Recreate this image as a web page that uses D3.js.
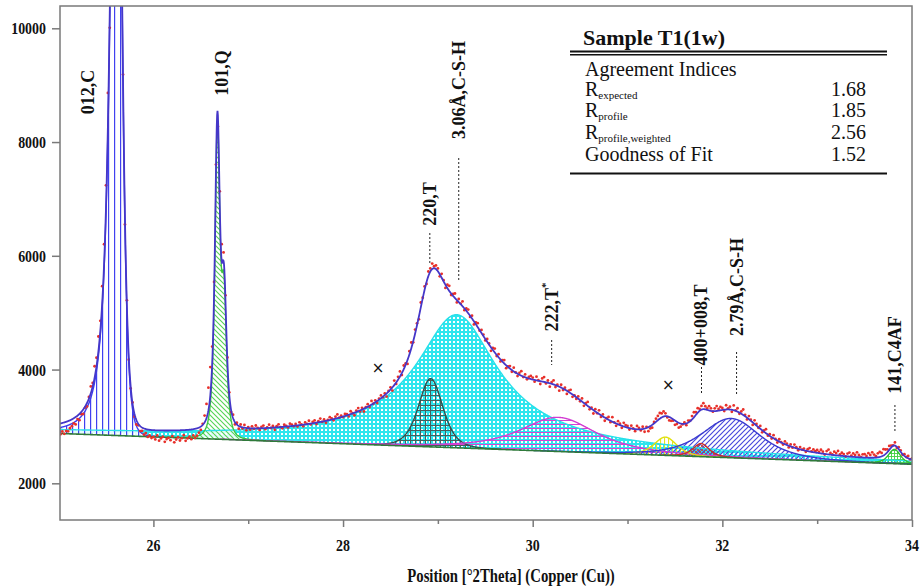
<!DOCTYPE html>
<html>
<head>
<meta charset="utf-8">
<script src="https://cdn.jsdelivr.net/npm/d3@7"></script>
<style>
  body { margin: 0; background: #ffffff; }
  svg text { font-family: "Liberation Serif", "Times New Roman", serif; fill: #111; }
</style>
</head>
<body>
<svg id="chart" width="921" height="588"></svg>
<script>
// ---------------- data ----------------
const xTicks = [26, 28, 30, 32, 34];
const xMinorTicks = [27, 29, 31, 33];
const yTicks = [2000, 4000, 6000, 8000, 10000];

// linear background: counts at 25° and 34° 2θ
const backgroundAt25 = 2877;
const backgroundAt34 = 2335;

// profile components of the fit (Pearson VII, split left/right)
const peakNames   = ["012,C", "101,Q", "3.06Å,C-S-H", "220,T", "222,T*", "×", "400+008,T", "2.79Å,C-S-H", "141,C4AF"];
const peakCenters = [25.610, 26.675, 29.198, 28.924, 30.270, 31.400, 31.776, 32.093, 33.815];
const peakHeights = [16000, 5330, 2340, 1200, 600, 320, 230, 690, 250];
const fwhmLeft    = [0.130, 0.062, 1.10, 0.30, 0.95, 0.28, 0.20, 0.72, 0.15];
const fwhmRight   = [0.116, 0.062, 1.10, 0.30, 0.95, 0.28, 0.20, 0.72, 0.15];
const shapeLeft   = [1.2, 1.5, 0.8, 3, 1.5, 2.5, 2, 2, 2];
const shapeRight  = [3.0, 1.5, 0.8, 3, 1.5, 2.5, 2, 2, 2];
const alpha2Ratio = [0, 0.42, 0, 0, 0, 0, 0, 0, 0];
const alpha2Shift = 0.07;

// observed scan: 25.00° .. 34.00° in 0.02° steps, given as difference from the fitted profile
const scanStart = 25.0, scanStep = 0.02;
const obsResidual = [
  -170,-190,-150,-200,-160,-180,-140,-120,-90,-130,-60,-110,-40,-80,-20,-60,30,120,60,200,150,260,180,300,350,
  400,600,-300,500,-400,300,-500,400,-200,150,-100,80,-60,-40,20,-50,-80,-30,-90,-60,-110,-70,-130,-100,-140,
  -120,-160,-90,-180,-140,-110,-200,-150,-130,-170,-100,-210,-160,-120,-180,-140,-90,-190,-150,-120,-170,-110,-160,-130,-90,
  -60,20,120,250,400,500,300,200,100,-200,250,300,150,100,60,40,-30,60,-40,30,-50,40,-20,50,-40,
  20,-25,35,-10,50,5,-30,25,45,-20,10,55,-5,30,-40,20,50,0,-25,35,10,-20,45,25,-10,
  30,-20,50,10,-30,35,5,55,-15,25,45,-25,20,60,-5,30,-35,10,50,20,-20,35,65,0,25,
  -10,35,20,-30,50,5,-45,25,55,-20,30,-50,10,45,-25,65,-5,35,-35,20,50,-10,30,-55,10,
  40,-55,80,-25,50,90,-35,65,25,-70,55,100,-20,70,35,-50,85,10,60,-30,80,55,95,35,65,
  50,-35,70,20,-55,60,90,-25,35,80,-40,55,10,85,-30,40,65,-20,50,-55,30,70,-10,55,25,
  -25,50,20,-60,35,70,-20,55,-35,25,60,-50,10,45,-30,65,5,-40,35,80,-10,50,-25,30,55,
  35,-30,65,10,-50,55,85,-20,40,-60,30,70,-35,20,-70,50,-25,35,-55,25,60,-40,10,-30,40,
  -20,55,-50,25,70,-35,20,-60,40,-10,65,-30,35,-55,10,50,-25,80,5,-40,55,25,-35,65,35,
  30,-25,50,10,-35,60,25,-20,40,-55,20,-70,-40,-50,25,55,75,100,70,90,50,-20,-60,-50,-25,
  -75,-40,-85,-55,-10,25,-30,35,10,60,90,50,80,35,65,105,55,25,75,45,-10,50,85,30,60,
  35,-25,75,20,50,-35,85,10,60,-20,40,95,25,-30,55,20,-45,65,30,-10,50,-35,25,70,-20,
  30,-25,55,10,-35,40,5,-20,50,25,-30,35,-10,55,20,-25,40,5,30,-20,35,60,10,50,25,
  50,20,65,35,-10,55,85,30,10,60,40,80,25,55,35,-5,50,70,20,60,35,85,40,10,55,
  60,30,80,50,95,55,25,70,90,60,110,80,50,70,35,10,55,-20,35,25,-10,30,5,40,-5,
  20
];

// peak annotations and unassigned reflections (°2θ)
const labelTexts = ["012,C", "101,Q", "220,T", "3.06Å,C-S-H", "222,T*", "400+008,T", "2.79Å,C-S-H", "141,C4AF"];
const labelAt    = [25.31, 26.72, 28.915, 29.22, 30.20, 31.78, 32.15, 33.82];
const unknownAt  = [28.37, 31.43];

// agreement indices
const tableTitle = "Sample T1(1w)";
const tableHeader = "Agreement Indices";
const indexNames = [["R", "expected"], ["R", "profile"], ["R", "profile,weighted"], ["Goodness of Fit", ""]];
const indexValues = [1.68, 1.85, 2.56, 1.52];

// ---------------- layout ----------------
const plot = { left: 60, right: 912, top: 6, bottom: 520 };
const x = d3.scaleLinear().domain([25.015, 34]).range([plot.left, plot.right]);
const y = d3.scaleLinear().domain([1355, 10392]).range([plot.bottom, plot.top]);

const svg = d3.select("#chart");
const defs = svg.append("defs");
defs.append("clipPath").attr("id", "plotClip")
  .append("rect").attr("x", plot.left).attr("y", plot.top)
  .attr("width", plot.right - plot.left).attr("height", plot.bottom - plot.top);

// fill patterns for the components
function pattern(id, size, paths, color, width, bg) {
  const p = defs.append("pattern").attr("id", id).attr("patternUnits", "userSpaceOnUse")
    .attr("width", size).attr("height", size);
  if (bg) p.append("rect").attr("width", size).attr("height", size).attr("fill", bg);
  p.append("path").attr("d", paths).attr("stroke", color).attr("stroke-width", width).attr("fill", "none");
  return "url(#" + id + ")";
}
const cyanPat = (() => {
  const p = defs.append("pattern").attr("id", "pCyan").attr("patternUnits", "userSpaceOnUse")
    .attr("width", 4).attr("height", 4);
  p.append("rect").attr("width", 4).attr("height", 4).attr("fill", "#2ee6ee");
  p.append("rect").attr("x", 1).attr("y", 1).attr("width", 2).attr("height", 2).attr("fill", "#ffffff");
  return "url(#pCyan)";
})();
const fills = [
  pattern("pC", 6, "M0.6,0V6", "#4040f0", 1.2, "rgba(255,255,255,0.85)"),
  pattern("pQ", 5, "M0,0L5,5M-1,4L1,6M4,-1L6,1", "#55d455", 1.1, "rgba(255,255,255,0.85)"),
  cyanPat,
  pattern("pT", 5, "M0,0.5H5M0.5,0V5", "#46605d", 1, null),
  pattern("pM", 4, "M0,0.5H4", "#d444d4", 1, null),
  pattern("pY", 4, "M0.5,0V4", "#e6e61c", 1.2, null),
  pattern("pR", 4, "M0,0L4,4M4,0L0,4", "#c23a30", 0.9, null),
  pattern("pB", 5, "M0,5L5,0M-1,1L1,-1M4,6L6,4", "#4848dc", 1.2, null),
  pattern("pG", 3, "M0,0.5H3M0.5,0V3", "#3fcf3f", 0.9, null)
];
const outlines = ["#3c3cf0", "#3fc73f", "#28e0ea", "#34504e", "#d23cd2", "#e0e010", "#c8302a", "#3a3ad0", "#2fbf2f"];

// ---------------- profile model ----------------
function pearson7(dx, hw, m) {
  const k = Math.pow(2, 1 / m) - 1;
  return Math.pow(1 + k * (dx / hw) * (dx / hw), -m);
}
function component(i, t) {
  const c = peakCenters[i];
  const prof = d => d < 0 ? pearson7(d, fwhmLeft[i] / 2, shapeLeft[i])
                          : pearson7(d, fwhmRight[i] / 2, shapeRight[i]);
  let v = prof(t - c);
  if (alpha2Ratio[i]) v += alpha2Ratio[i] * prof(t - c - alpha2Shift);
  return peakHeights[i] * v;
}
function background(t) {
  return backgroundAt25 + (backgroundAt34 - backgroundAt25) * (t - 25) / 9;
}
function total(t) {
  let s = background(t);
  for (let i = 0; i < peakCenters.length; i++) s += component(i, t);
  return s;
}

const grid = d3.range(25.0, 34.0001, 0.004);

// ---------------- component fills ----------------
const gPlot = svg.append("g").attr("clip-path", "url(#plotClip)");
const drawOrder = [2, 0, 1, 3, 4, 5, 6, 7, 8];
const compPoints = i => grid.filter(t => i === 2 || component(i, t) > 3)
  .map(t => ({ t, b: background(t), v: component(i, t) }));
drawOrder.forEach(i => {
  gPlot.append("path").datum(compPoints(i))
    .attr("d", d3.area().x(d => x(d.t)).y0(d => y(d.b)).y1(d => y(d.b + d.v)))
    .attr("fill", fills[i]).attr("stroke", "none");
});
drawOrder.forEach(i => {
  gPlot.append("path").datum(compPoints(i))
    .attr("d", d3.line().x(d => x(d.t)).y(d => y(d.b + d.v)))
    .attr("fill", "none").attr("stroke", outlines[i]).attr("stroke-width", 1.4);
});

// background
gPlot.append("path").datum(grid)
  .attr("d", d3.line().x(t => x(t)).y(t => y(background(t))))
  .attr("fill", "none").attr("stroke", "#2f7a3a").attr("stroke-width", 1.6);

// observed points
const observed = obsResidual.map((r, k) => {
  const t = scanStart + k * scanStep;
  return { t, v: total(t) + r };
});
gPlot.append("g").selectAll("circle").data(observed).join("circle")
  .attr("cx", d => x(d.t)).attr("cy", d => y(d.v)).attr("r", 1.4)
  .attr("fill", "#e8302a");

// fitted profile
gPlot.append("path").datum(grid)
  .attr("d", d3.line().x(t => x(t)).y(t => y(total(t))))
  .attr("fill", "none").attr("stroke", "#4537c8").attr("stroke-width", 1.8);

// ---------------- axes and frame ----------------
const axisColor = "#7a7a7a";
svg.append("rect").attr("x", plot.left).attr("y", plot.top)
  .attr("width", plot.right - plot.left).attr("height", plot.bottom - plot.top)
  .attr("fill", "none").attr("stroke", axisColor).attr("stroke-width", 1.5);

const gx = svg.append("g").attr("transform", `translate(0,${plot.bottom})`)
  .call(d3.axisBottom(x).tickValues(xTicks).tickSize(7).tickFormat(""));
const gxm = svg.append("g").attr("transform", `translate(0,${plot.bottom})`)
  .call(d3.axisBottom(x).tickValues(xMinorTicks).tickSize(4).tickFormat(""));
const gy = svg.append("g").attr("transform", `translate(${plot.left},0)`)
  .call(d3.axisLeft(y).tickValues(yTicks).tickSize(8).tickFormat(""));
[gx, gxm, gy].forEach(g => {
  g.select(".domain").remove();
  g.selectAll("line").attr("stroke", axisColor).attr("stroke-width", 1.5);
});

const tickFont = 17, squeeze = 0.82;
svg.append("g").selectAll("text").data(yTicks).join("text")
  .attr("transform", d => `translate(46,${y(d)}) scale(${squeeze},1)`)
  .attr("text-anchor", "end").attr("dominant-baseline", "central")
  .attr("font-weight", "bold").attr("font-size", tickFont)
  .text(d => d);
svg.append("g").selectAll("text").data(xTicks).join("text")
  .attr("transform", d => `translate(${x(d)},545) scale(${squeeze},1)`)
  .attr("text-anchor", "middle").attr("dominant-baseline", "central")
  .attr("font-weight", "bold").attr("font-size", tickFont)
  .text(d => d);
svg.append("text")
  .attr("transform", `translate(511,576) scale(${squeeze},1)`)
  .attr("text-anchor", "middle").attr("dominant-baseline", "central")
  .attr("font-weight", "bold").attr("font-size", 18)
  .text("Position [°2Theta] (Copper (Cu))");

// ---------------- peak annotations ----------------
const labelMid    = [92, 73, 204, 90, 307, 325, 287, 355];
const leaderTop   = [null, null, 233, 158, 340, 367, 352, 405];
const leaderBot   = [null, null, 263, 280, 365, 393, 395, 432];
const gLab = svg.append("g");
labelTexts.forEach((txt, i) => {
  const px = x(labelAt[i]);
  const t = gLab.append("text")
    .attr("transform", `translate(${px},${labelMid[i]}) rotate(-90)`)
    .attr("text-anchor", "middle").attr("dominant-baseline", "central")
    .attr("font-weight", "bold").attr("font-size", 18);
  if (txt.endsWith("*")) {
    t.append("tspan").text(txt.slice(0, -1));
    t.append("tspan").attr("font-size", 11).attr("dy", -7).text("*");
  } else {
    t.text(txt);
  }
  if (leaderTop[i] !== null) {
    gLab.append("line").attr("x1", px).attr("x2", px)
      .attr("y1", leaderTop[i]).attr("y2", leaderBot[i])
      .attr("stroke", "#222").attr("stroke-width", 1).attr("stroke-dasharray", "2,2");
  }
});
gLab.selectAll("text.unk").data(unknownAt).join("text").attr("class", "unk")
  .attr("x", d => x(d)).attr("y", d => y(total(d)) - 32)
  .attr("text-anchor", "middle").attr("dominant-baseline", "central")
  .attr("font-size", 15).style("font-family", "DejaVu Sans")
  .text("×");

// ---------------- agreement table ----------------
const tb = svg.append("g");
const tLeft = 570, tRight = 887, textLeft = 585, valRight = 866;
tb.append("text").attr("x", 583).attr("y", 45)
  .attr("font-weight", "bold").attr("font-size", 22).text(tableTitle);
tb.append("line").attr("x1", tLeft).attr("x2", tRight).attr("y1", 51.5).attr("y2", 51.5)
  .attr("stroke", "#111").attr("stroke-width", 2);
tb.append("line").attr("x1", tLeft).attr("x2", tRight).attr("y1", 54.8).attr("y2", 54.8)
  .attr("stroke", "#111").attr("stroke-width", 1.4);
tb.append("text").attr("x", textLeft).attr("y", 76).attr("font-size", 20).text(tableHeader);
const rowBase = [96, 117, 138.5, 160.5];
indexNames.forEach((nm, i) => {
  const t = tb.append("text").attr("x", textLeft).attr("y", rowBase[i]).attr("font-size", 20);
  t.append("tspan").text(nm[0]);
  if (nm[1]) t.append("tspan").attr("font-size", 11).attr("dy", 3).text(nm[1]);
  tb.append("text").attr("x", valRight).attr("y", rowBase[i]).attr("text-anchor", "end")
    .attr("font-size", 20).text(indexValues[i].toFixed(2));
});
tb.append("line").attr("x1", tLeft).attr("x2", tRight).attr("y1", 173.5).attr("y2", 173.5)
  .attr("stroke", "#111").attr("stroke-width", 2);
</script>
</body>
</html>
